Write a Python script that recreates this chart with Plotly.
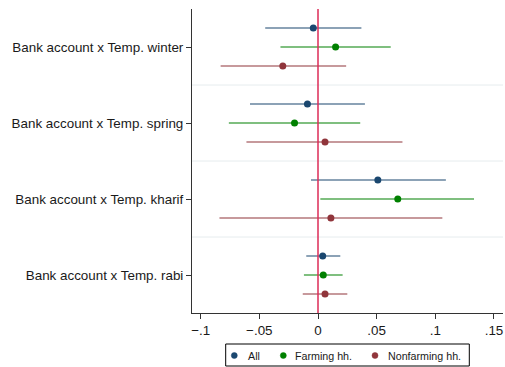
import plotly.graph_objects as go

categories = ["Bank account x Temp. winter", "Bank account x Temp. spring",
              "Bank account x Temp. kharif", "Bank account x Temp. rabi"]
series_names = ["All", "Farming hh.", "Nonfarming hh."]
colors = ["#1a476f", "#008000", "#90353b"]

# point estimates per category (winter, spring, kharif, rabi)
est_all = [-0.004, -0.009, 0.051, 0.004]
lo_all = [-0.045, -0.058, -0.006, -0.010]
hi_all = [0.037, 0.040, 0.109, 0.019]

est_farm = [0.015, -0.020, 0.068, 0.0045]
lo_farm = [-0.032, -0.076, 0.002, -0.012]
hi_farm = [0.062, 0.036, 0.133, 0.021]

est_nonfarm = [-0.030, 0.006, 0.011, 0.006]
lo_nonfarm = [-0.083, -0.061, -0.084, -0.013]
hi_nonfarm = [0.024, 0.072, 0.106, 0.025]

x_ticks = [-0.1, -0.05, 0, 0.05, 0.1, 0.15]
x_tick_labels = ["\u2212.1", "\u2212.05", "0", ".05", ".1", ".15"]

series = [(est_all, lo_all, hi_all), (est_farm, lo_farm, hi_farm),
          (est_nonfarm, lo_nonfarm, hi_nonfarm)]

W, H = 505, 367
ML, MR, MT, MB = 192, 2, 9, 54
PW, PH = W - ML - MR, H - MT - MB


def px(x):
    return (x - ML) / PW


def py(y):
    return (H - MB - y) / PH


n = len(categories)
centers = [4 * (n - 1 - i) + 2 for i in range(n)]
offsets = [1, 0, -1]

fig = go.Figure()
for s, (est, lo, hi) in enumerate(series):
    ys = [c + offsets[s] for c in centers]
    fig.add_trace(go.Scatter(
        x=est, y=ys, mode="markers", name=series_names[s],
        marker=dict(color=colors[s], size=7),
        error_x=dict(type="data", symmetric=False,
                     array=[h - e for h, e in zip(hi, est)],
                     arrayminus=[e - l for e, l in zip(est, lo)],
                     color=colors[s], thickness=1.2, width=0),
    ))

for k in range(1, n):
    fig.add_shape(type="line", xref="paper", x0=0, x1=1, yref="y", y0=4 * k, y1=4 * k,
                  line=dict(color="#e6ecee", width=1), layer="below")
fig.add_shape(type="line", xref="x", x0=0, x1=0, yref="y", y0=0, y1=4 * n,
              line=dict(color="#dc2b57", width=1.5))

# custom legend box
fig.add_shape(type="rect", xref="paper", yref="paper",
              x0=px(225.7), x1=px(469.3), y0=py(366), y1=py(344),
              line=dict(color="#000", width=1), fillcolor="white")
leg_dot_x = [234.3, 283.3, 375.0]
leg_txt_x = [246.7, 294.0, 386.7]
leg_y = 355.5
for s in range(3):
    fig.add_shape(type="circle", xref="paper", yref="paper",
                  x0=px(leg_dot_x[s] - 3), x1=px(leg_dot_x[s] + 3),
                  y0=py(leg_y + 3), y1=py(leg_y - 3),
                  line=dict(color=colors[s], width=0.5), fillcolor=colors[s])
    fig.add_annotation(xref="paper", yref="paper", x=px(leg_txt_x[s]), y=py(leg_y),
                       xanchor="left", yanchor="middle", text=series_names[s],
                       showarrow=False, font=dict(size=10.7, color="#1a1a1a"),
                       borderpad=0)

fig.update_layout(
    width=W, height=H,
    margin=dict(l=ML, r=MR, t=MT, b=MB),
    paper_bgcolor="white", plot_bgcolor="white",
    font=dict(family="Liberation Sans, Arial, sans-serif", size=13.4, color="#1a1a1a"),
    showlegend=False,
    xaxis=dict(range=[-0.1074, 0.1577], tickvals=x_ticks, ticktext=x_tick_labels,
               showgrid=False, zeroline=False, showline=True, linecolor="#333",
               linewidth=1, ticks="outside", ticklen=5, tickcolor="#333",
               tickfont=dict(size=13.4), automargin=False),
    yaxis=dict(range=[0, 4 * n], tickvals=centers, ticktext=categories,
               showgrid=False, zeroline=False, showline=True, linecolor="#333",
               linewidth=1, ticks="outside", ticklen=5, tickcolor="#333",
               tickfont=dict(size=13.4), automargin=False),
)

fig.write_html("out.html")
